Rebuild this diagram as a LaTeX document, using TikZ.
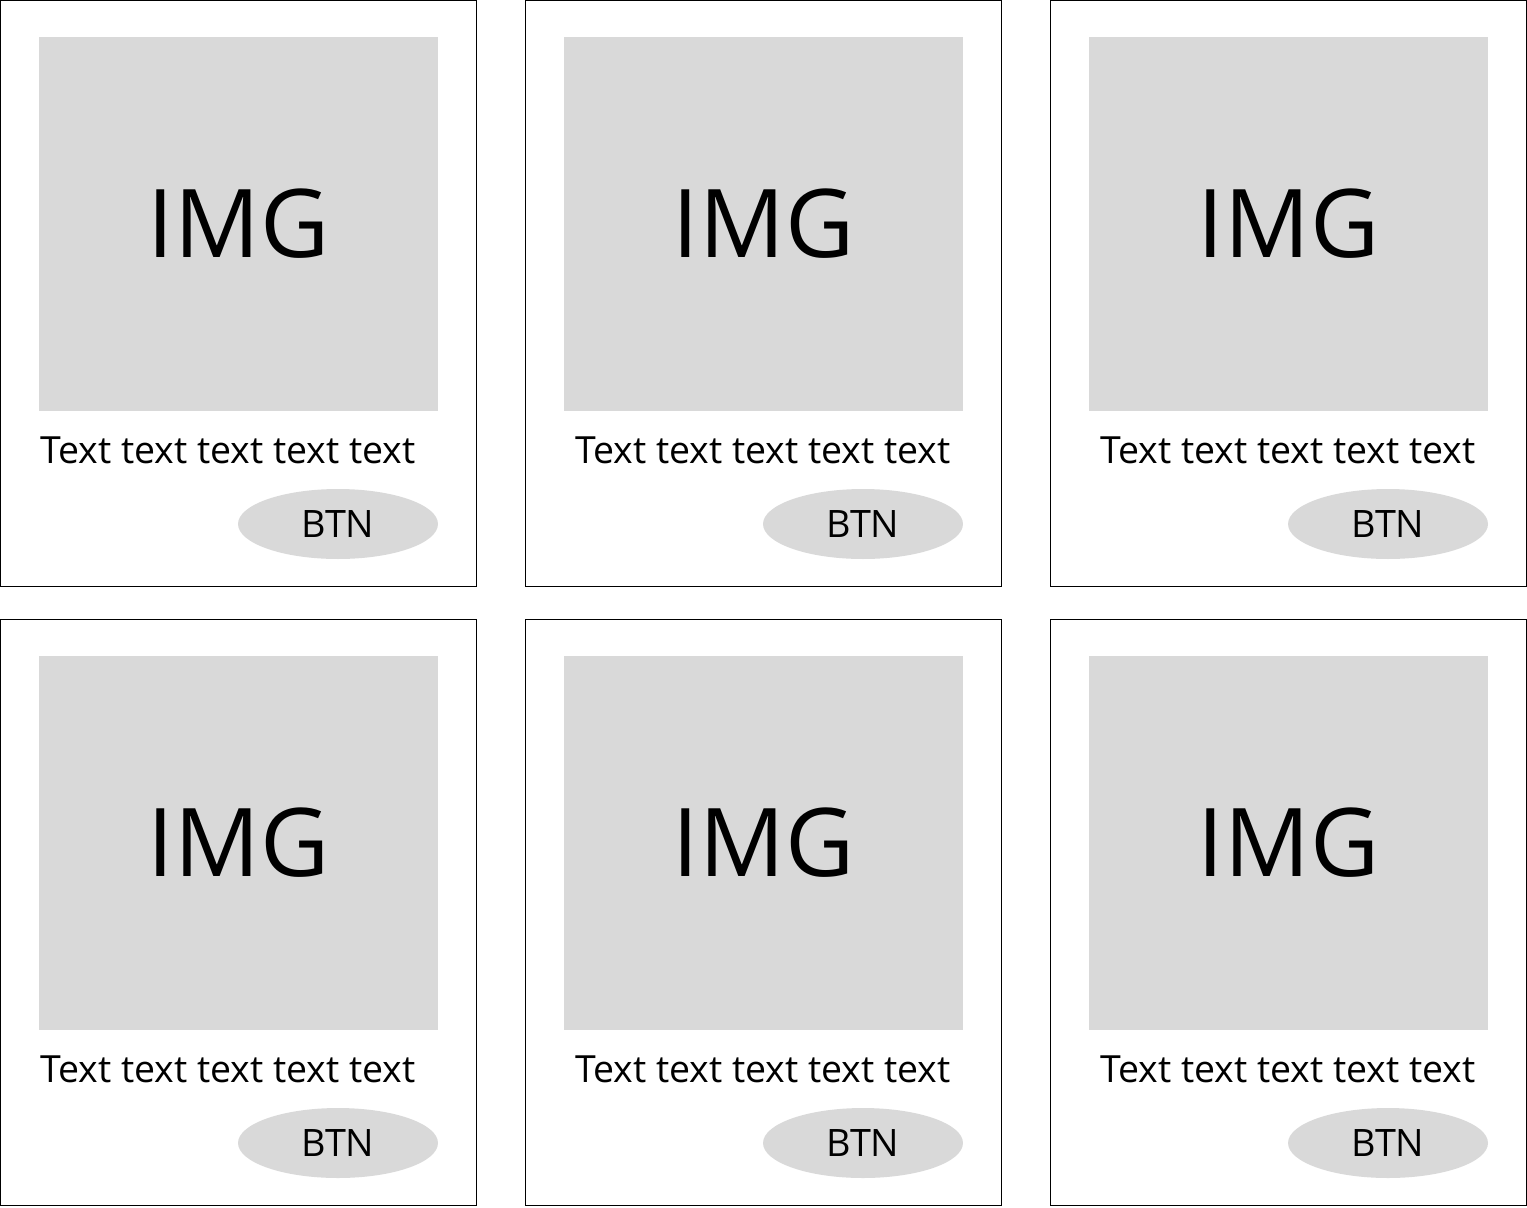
\documentclass[tikz,border=0pt]{standalone}
\usepackage{fontspec}
\setmainfont{Open Sans}
\usetikzlibrary{shapes.geometric}
\definecolor{placegray}{HTML}{D9D9D9}
\tikzset{
  cardbox/.style={draw=black, line width=0.6pt, minimum width=9.52cm, minimum height=11.72cm, inner sep=0pt},
  imgbox/.style={fill=placegray, minimum width=7.98cm, minimum height=7.48cm, inner sep=0pt, font=\fontsize{54}{60}\selectfont},
  captext/.style={font=\fontsize{21.3}{25}\selectfont, inner sep=0pt},
  btnbox/.style={ellipse, fill=placegray, minimum width=4cm, minimum height=1.4cm, inner sep=0pt, font=\fontsize{21.5}{25}\selectfont}
}
\begin{document}
\begin{tikzpicture}[x=0.02cm, y=-0.02cm]
% Page frame (1527 x 1207 px)
\useasboundingbox (0,0) rectangle (1527,1207);

% Top row
\node[cardbox] (card1) at (238.5, 293.5) {};
\node[imgbox] (img1) at (238.5, 224) {IMG};
\node[captext, anchor=base west] (txt1) at (40, 463) {Text text text text text};
\node[btnbox] (btn1) at (338, 524) {BTN};

\node[cardbox] (card2) at (763.5, 293.5) {};
\node[imgbox] (img2) at (763.5, 224) {IMG};
\node[captext, anchor=base] (txt2) at (763, 463) {Text text text text text};
\node[btnbox] (btn2) at (863, 524) {BTN};

\node[cardbox] (card3) at (1288.5, 293.5) {};
\node[imgbox] (img3) at (1288.5, 224) {IMG};
\node[captext, anchor=base] (txt3) at (1288, 463) {Text text text text text};
\node[btnbox] (btn3) at (1388, 524) {BTN};

% Bottom row
\node[cardbox] (card4) at (238.5, 912.5) {};
\node[imgbox] (img4) at (238.5, 843) {IMG};
\node[captext, anchor=base west] (txt4) at (40, 1082) {Text text text text text};
\node[btnbox] (btn4) at (338, 1143) {BTN};

\node[cardbox] (card5) at (763.5, 912.5) {};
\node[imgbox] (img5) at (763.5, 843) {IMG};
\node[captext, anchor=base] (txt5) at (763, 1082) {Text text text text text};
\node[btnbox] (btn5) at (863, 1143) {BTN};

\node[cardbox] (card6) at (1288.5, 912.5) {};
\node[imgbox] (img6) at (1288.5, 843) {IMG};
\node[captext, anchor=base] (txt6) at (1288, 1082) {Text text text text text};
\node[btnbox] (btn6) at (1388, 1143) {BTN};
\end{tikzpicture}
\end{document}
